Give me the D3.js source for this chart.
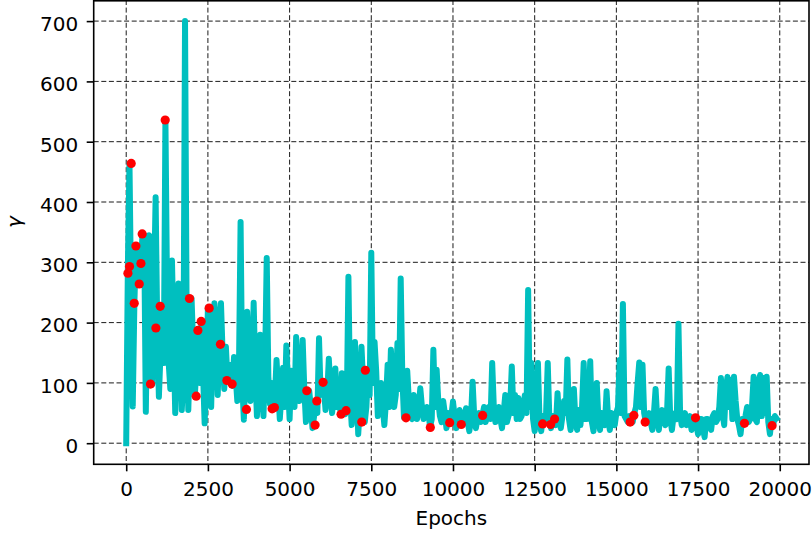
<!DOCTYPE html>
<html lang="en">
<head>
<meta charset="UTF-8">
<title>gamma over epochs</title>
<script src="https://d3js.org/d3.v7.min.js"></script>
<style>
  body { margin: 0; background: #fff; }
  svg { display: block; font-family: "DejaVu Sans", sans-serif; }
</style>
</head>
<body>
<svg id="chart" width="812" height="533"></svg>
<script>
const STEP = 50;
const gamma = [
  0, 290, 464, 240, 61, 232, 327, 300, 265, 298, 347, 345, 52, 250, 345, 340, 98, 253, 408, 190,
  77, 150, 227, 133, 536, 250, 133, 90, 303, 180, 50, 140, 265, 254, 55, 110, 700, 200, 55, 150,
  240, 160, 78, 130, 188, 100, 202, 120, 33, 110, 225, 150, 60, 180, 232, 200, 80, 164, 232, 150,
  90, 160, 104, 130, 100, 95, 143, 110, 70, 120, 367, 100, 39, 120, 218, 150, 70, 110, 233, 120,
  45, 100, 180, 90, 45, 133, 307, 110, 65, 100, 58, 75, 138, 90, 40, 80, 125, 60, 162, 100,
  40, 120, 90, 60, 176, 110, 70, 100, 171, 90, 35, 70, 87, 60, 25, 45, 68, 50, 174, 80,
  101, 90, 55, 80, 140, 90, 50, 75, 124, 60, 80, 55, 116, 70, 48, 60, 276, 80, 30, 70,
  168, 90, 15, 60, 160, 100, 35, 60, 121, 80, 316, 100, 168, 120, 45, 70, 100, 60, 30, 70,
  130, 60, 155, 100, 60, 80, 166, 90, 273, 110, 43, 60, 120, 70, 50, 40, 80, 60, 40, 60,
  91, 60, 40, 45, 60, 50, 27, 40, 155, 60, 122, 70, 45, 35, 70, 50, 25, 50, 35, 45,
  69, 45, 25, 40, 55, 40, 31, 45, 58, 35, 20, 40, 102, 45, 25, 40, 50, 35, 46, 60,
  35, 50, 60, 40, 133, 60, 35, 45, 60, 40, 25, 50, 80, 35, 45, 60, 127, 50, 80, 40,
  75, 40, 45, 60, 80, 50, 254, 60, 133, 40, 20, 50, 133, 35, 20, 45, 32, 50, 133, 40,
  25, 45, 45, 30, 83, 40, 25, 45, 70, 50, 139, 40, 22, 50, 90, 35, 22, 55, 30, 60,
  133, 40, 40, 60, 136, 35, 20, 50, 100, 40, 22, 50, 40, 30, 86, 40, 22, 50, 40, 30,
  50, 60, 138, 50, 231, 45, 40, 35, 45, 40, 35, 50, 60, 100, 134, 60, 130, 50, 35, 45,
  50, 35, 22, 50, 90, 40, 22, 45, 55, 40, 30, 50, 124, 40, 22, 45, 50, 40, 198, 50,
  30, 40, 50, 30, 40, 45, 22, 40, 42, 30, 15, 40, 40, 25, 10, 40, 40, 35, 22, 45,
  50, 35, 40, 60, 108, 50, 30, 90, 110, 60, 105, 40, 110, 70, 40, 30, 15, 40, 33, 45,
  60, 35, 40, 60, 110, 40, 35, 100, 113, 45, 108, 50, 110, 35, 15, 40, 30, 45, 41
];

// red markers
const dotEpochs = [52, 101, 153, 245, 297, 398, 450, 489, 743, 908,
  1040, 1193, 1936, 2141, 2193, 2294, 2538, 2884, 3080, 3242,
  3679, 4465, 4535, 5526, 5780, 5832, 6024, 6575, 6728, 7208,
  7318, 8563, 9306, 9899, 10254, 10908, 12743, 12988, 13110, 15422,
  15535, 15881, 17422, 18920, 19765];
const dotGamma = [282, 293, 464, 232, 327, 264, 298, 347, 98, 191,
  227, 536, 240, 78, 187, 202, 224, 164, 104, 98,
  56, 57, 59, 87, 30, 70, 101, 48, 54, 35,
  121, 42, 26, 34, 31, 46, 32, 31, 40, 35,
  46, 35, 42, 33, 29];

const xTicks = [0, 2500, 5000, 7500, 10000, 12500, 15000, 17500, 20000];
const yTicks = [0, 100, 200, 300, 400, 500, 600, 700];

const epochs = gamma.map((d, i) => i * STEP);
const series = epochs.map((e, i) => ({ e: e, g: gamma[i] }));
const dots = dotEpochs.map((e, i) => ({ e: e, g: dotGamma[i] }));

// plot box
const plotL = 93.7, plotR = 809, plotT = 0, plotB = 464.3;

// matplotlib style 5% margins
function padded(ext) {
  const p = (ext[1] - ext[0]) * 0.05;
  return [ext[0] - p, ext[1] + p];
}

const x = d3.scaleLinear().domain(padded(d3.extent(epochs))).range([plotL, plotR]);
const y = d3.scaleLinear().domain(padded(d3.extent(gamma))).range([plotB, plotT]);

const svg = d3.select("#chart");

// grid
const grid = svg.append("g")
  .attr("stroke", "#000")
  .attr("stroke-width", 0.9)
  .attr("stroke-dasharray", "5,2.6");
grid.selectAll(".gx").data(xTicks).enter().append("line")
  .attr("x1", d => x(d)).attr("x2", d => x(d))
  .attr("y1", plotT).attr("y2", plotB);
grid.selectAll(".gy").data(yTicks).enter().append("line")
  .attr("x1", plotL).attr("x2", plotR)
  .attr("y1", d => y(d)).attr("y2", d => y(d));

svg.append("clipPath").attr("id", "clip")
  .append("rect")
  .attr("x", plotL).attr("y", plotT)
  .attr("width", plotR - plotL).attr("height", plotB - plotT);

// line
const line = d3.line().x(d => x(d.e)).y(d => y(d.g));
svg.append("path")
  .datum(series)
  .attr("clip-path", "url(#clip)")
  .attr("d", line)
  .attr("fill", "none")
  .attr("stroke", "#00bfbf")
  .attr("stroke-width", 6)
  .attr("stroke-linejoin", "round")
  .attr("stroke-linecap", "square");

// markers
svg.append("g").selectAll("circle")
  .data(dots)
  .enter().append("circle")
  .attr("cx", d => x(d.e))
  .attr("cy", d => y(d.g))
  .attr("r", 4.6)
  .attr("fill", "#ff0000");

// axes
const xAxis = d3.axisBottom(x).tickValues(xTicks).tickFormat(d3.format("d"))
  .tickSize(7).tickPadding(11);
const yAxis = d3.axisLeft(y).tickValues(yTicks).tickFormat(d3.format("d"))
  .tickSize(7).tickPadding(8.4);

const gx = svg.append("g").attr("transform", "translate(0," + plotB + ")").call(xAxis);
const gy = svg.append("g").attr("transform", "translate(" + plotL + ",0)").call(yAxis);
[gx, gy].forEach(g => {
  g.select(".domain").remove();
  g.selectAll(".tick line").attr("stroke", "#000").attr("stroke-width", 1.6);
  g.selectAll(".tick text")
    .attr("fill", "#000")
    .style("font-family", "'DejaVu Sans', sans-serif")
    .style("font-size", "20px");
});
gy.selectAll(".tick text").attr("dy", "0.465em");

// frame
svg.append("rect")
  .attr("x", plotL).attr("y", plotT + 0.8)
  .attr("width", plotR - plotL).attr("height", plotB - plotT - 0.8)
  .attr("fill", "none")
  .attr("stroke", "#000")
  .attr("stroke-width", 1.6);

// axis labels
svg.append("text")
  .attr("x", (plotL + plotR) / 2)
  .attr("y", 525)
  .attr("text-anchor", "middle")
  .style("font-size", "20px")
  .text("Epochs");

svg.append("text")
  .attr("transform", "translate(21,222) rotate(-90)")
  .attr("text-anchor", "middle")
  .style("font-size", "20px")
  .style("font-style", "italic")
  .text("γ");
</script>
</body>
</html>
